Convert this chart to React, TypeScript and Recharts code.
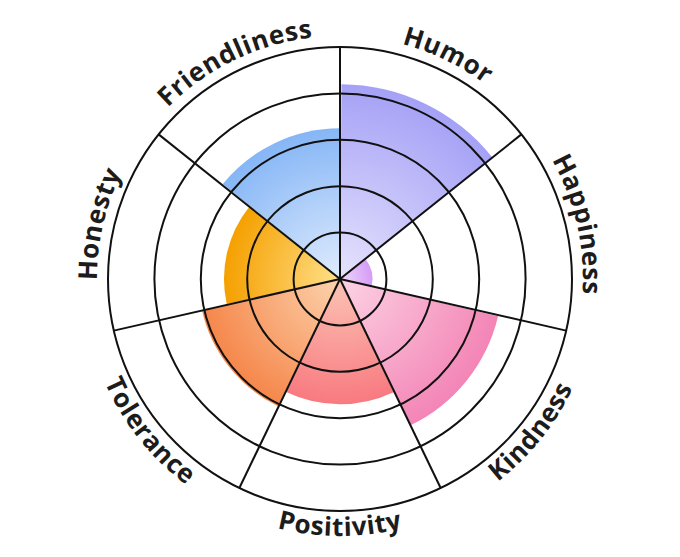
import { PolarAngleAxis, PolarGrid, PolarRadiusAxis, RadialBar, RadialBarChart, Sector } from 'recharts';

const TRAITS = ['Humor', 'Happiness', 'Kindness', 'Positivity', 'Tolerance', 'Honesty', 'Friendliness'];
const SCORES = [4.2, 0.7, 3.5, 2.7, 3.05, 2.5, 3.25];
const LIGHT = ['#e6e3fd', '#efd9fb', '#fdd3e4', '#fcc4b6', '#fdd3ad', '#ffe08a', '#e0ecfd'];
const DARK = ['#a5a1f6', '#d59cf6', '#f385b6', '#f87a80', '#f5864a', '#f5a000', '#86b6f6'];
const RINGS = [0, 1, 2, 3, 4, 5];

const data = TRAITS.map((name, i) => ({ name, value: SCORES[i] }));
const BAND = 360 / TRAITS.length;
const boundaries = TRAITS.map((_, i) => 90 - BAND * i);

const CX = 340;
const CY = 279;
const RAD = Math.PI / 180;
// recharts puts the first band on the counter-clockwise side of its tick, so start one band early
const START = 90 - BAND;
const END = START - 360;

function polar(cx: number, cy: number, r: number, angle: number) {
  return { x: cx + r * Math.cos(-angle * RAD), y: cy + r * Math.sin(-angle * RAD) };
}

function GradientSector(props: any) {
  const { cx, cy, outerRadius, index } = props;
  const id = `trait-grad-${index}`;
  return (
    <g>
      <defs>
        <radialGradient id={id} gradientUnits="userSpaceOnUse" cx={cx} cy={cy} r={outerRadius}>
          <stop offset="0%" stopColor={LIGHT[index]} />
          <stop offset="100%" stopColor={DARK[index]} />
        </radialGradient>
      </defs>
      <Sector {...props} fill={`url(#${id})`} stroke="none" />
    </g>
  );
}

function ArcLabel(props: any) {
  const { payload, index } = props;
  const cx = props.cx ?? CX;
  const cy = props.cy ?? CY;
  const angle = payload.coordinate + BAND / 2;
  const upper = Math.sin(angle * RAD) > -0.01;
  const r = upper ? 243 : 257;
  const span = 60;
  const p0 = polar(cx, cy, r, upper ? angle + span : angle - span);
  const p1 = polar(cx, cy, r, upper ? angle - span : angle + span);
  const id = `trait-arc-${index}`;
  return (
    <g>
      <defs>
        <path id={id} d={`M ${p0.x} ${p0.y} A ${r} ${r} 0 0 ${upper ? 1 : 0} ${p1.x} ${p1.y}`} fill="none" />
      </defs>
      <text fill="#1c1c1c" fontSize={26} fontWeight={700} letterSpacing={0.6} fontFamily="'Open Sans', sans-serif">
        <textPath href={`#${id}`} startOffset="50%" textAnchor="middle">
          {payload.value}
        </textPath>
      </text>
    </g>
  );
}

const chartProps = {
  width: 680,
  height: 557,
  data,
  cx: CX,
  cy: CY,
  innerRadius: 0,
  outerRadius: 232,
  startAngle: START,
  endAngle: END,
  layout: 'centric' as const,
  barCategoryGap: 0,
  margin: { top: 0, right: 0, bottom: 0, left: 0 }
};

export default function App() {
  return (
    <div style={{ position: 'absolute', left: 0, top: 0, width: 680, height: 557, background: '#fff' }}>
      <div style={{ position: 'absolute', left: 0, top: 0 }}>
        <RadialBarChart {...chartProps}>
          <PolarAngleAxis type="category" dataKey="name" tick={false} axisLine={false} tickLine={false} />
          <PolarRadiusAxis type="number" domain={[0, 5]} ticks={RINGS} tick={false} axisLine={false} />
          <RadialBar dataKey="value" shape={GradientSector} isAnimationActive={false} />
        </RadialBarChart>
      </div>
      {/* grid and labels sit in a second layer so the rings draw over the sectors */}
      <div style={{ position: 'absolute', left: 0, top: 0 }}>
        <RadialBarChart {...chartProps}>
          <PolarAngleAxis type="category" dataKey="name" tick={ArcLabel} axisLine={false} tickLine={false} />
          <PolarRadiusAxis type="number" domain={[0, 5]} ticks={RINGS} tick={false} axisLine={false} />
          <PolarGrid gridType="circle" polarAngles={boundaries} stroke="#111" strokeWidth={2} strokeOpacity={1} />
          <RadialBar dataKey="value" fill="none" stroke="none" isAnimationActive={false} />
        </RadialBarChart>
      </div>
    </div>
  );
}
